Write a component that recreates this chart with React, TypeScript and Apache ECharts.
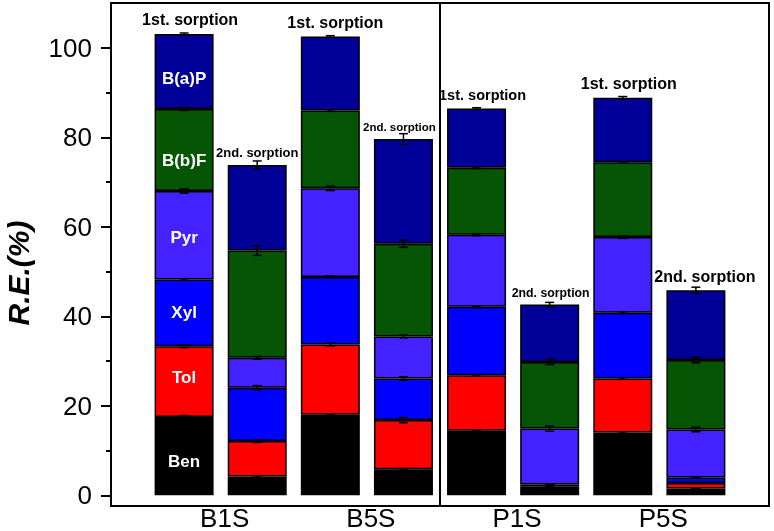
import React, { useEffect, useRef } from "react";
import * as echarts from "echarts";

// slots of the category axis (bars occupy slots 1..8)
const slots = ["0", "1", "2", "3", "4", "5", "6", "7", "8", "9"];
const barX = [1, 2, 3, 4, 5, 6, 7, 8];
const groupNames = ["B1S", "B5S", "P1S", "P5S"];
const groupPos = [1.5, 3.5, 5.5, 7.5];
const separatorX = 4.5;
const topLabels = [
  "1st. sorption", "2nd. sorption", "1st. sorption", "2nd. sorption",
  "1st. sorption", "2nd. sorption", "1st. sorption", "2nd. sorption",
];
const compounds = ["Ben", "Tol", "Xyl", "Pyr", "B(b)F", "B(a)P"];

const ben = [17.5, 4.2, 18.0, 5.8, 14.4, 1.4, 14.0, 1.5];
const tol = [15.8, 7.9, 15.7, 11.0, 12.4, 0.5, 12.1, 1.25];
const xyl = [14.9, 11.9, 15.1, 9.3, 15.3, 0.5, 14.7, 1.2];
const pyr = [19.8, 6.7, 19.8, 9.4, 16.1, 12.5, 16.9, 10.75];
const bbf = [18.3, 24.0, 17.4, 20.7, 15.0, 14.9, 16.7, 15.5];
const bap = [16.8, 19.1, 16.5, 23.4, 13.2, 12.8, 14.4, 15.6];

const benErr = [0.3, 0.2, 0.2, 0.2, 0.2, 0.1, 0.2, 0.1];
const tolErr = [0.3, 0.3, 0.3, 0.6, 0.2, 0.1, 0.2, 0.1];
const xylErr = [0.2, 0.5, 0.2, 0.4, 0.2, 0.1, 0.2, 0.1];
const pyrErr = [0.5, 0.3, 0.5, 0.3, 0.2, 0.6, 0.3, 0.5];
const bbfErr = [0.3, 1.1, 0.2, 0.8, 0.2, 0.6, 0.2, 0.6];
const bapErr = [0.2, 0.9, 0.2, 1.2, 0.2, 0.5, 0.3, 0.7];

const yMin = -2.4;
const yMax = 110;
const yMajorTicks = [0, 20, 40, 60, 80, 100];
const yMinorTicks = [10, 30, 50, 70, 90];

// styles
const colors = ["#000000", "#ff0000", "#0000ff", "#4422ff", "#055505", "#000099"];
const innerLabelDy = [5, -4, 0, 2, 10, 7];
const topLabelFont = [16, 13, 16, 11.5, 14.5, 12.3, 16, 16];
const topLabelDx = [6, 0, 5, -4, 6, 1, 6, 9];
const FONT = "Arial, 'Liberation Sans', sans-serif";

export default function App() {
  const ref = useRef<HTMLDivElement>(null);
  useEffect(() => {
    if (!ref.current) return;
    const chart = echarts.init(ref.current, undefined, { renderer: "svg" });
    const values = [ben, tol, xyl, pyr, bbf, bap];
    const errs = [benErr, tolErr, xylErr, pyrErr, bbfErr, bapErr];

    const barSeries = values.map((arr, si) => ({
      type: "bar",
      name: compounds[si],
      stack: "total",
      barWidth: 59,
      xAxisIndex: 0,
      yAxisIndex: 0,
      z: 2,
      itemStyle: { color: colors[si], borderColor: "#000", borderWidth: 1.5 },
      data: arr.map((v, i) => ({
        value: [barX[i], v],
        label: i === 0
          ? {
              show: true,
              position: "inside",
              offset: [0, innerLabelDy[si]],
              formatter: compounds[si],
              color: "#fff",
              fontSize: 17,
              fontWeight: "bold",
              fontFamily: FONT,
            }
          : { show: false },
      })),
    }));

    const errData: number[][] = [];
    const totals: number[] = barX.map(() => 0);
    values.forEach((arr, si) => {
      arr.forEach((v, i) => {
        totals[i] += v;
        errData.push([barX[i], totals[i], errs[si][i]]);
      });
    });

    const errorSeries = {
      type: "custom",
      xAxisIndex: 1,
      yAxisIndex: 0,
      z: 5,
      encode: { x: 0, y: 1 },
      data: errData,
      renderItem: (params: any, api: any) => {
        const x = api.value(0);
        const top = api.value(1);
        const e = api.value(2);
        const p1 = api.coord([x, top + e]);
        const p2 = api.coord([x, top - e]);
        const hw = 4.5;
        const st = { stroke: "#000", lineWidth: 1.5 };
        return {
          type: "group",
          children: [
            { type: "line", shape: { x1: p1[0], y1: p1[1], x2: p2[0], y2: p2[1] }, style: st },
            { type: "line", shape: { x1: p1[0] - hw, y1: p1[1], x2: p1[0] + hw, y2: p1[1] }, style: st },
            { type: "line", shape: { x1: p2[0] - hw, y1: p2[1], x2: p2[0] + hw, y2: p2[1] }, style: st },
          ],
        };
      },
    };

    const labelSeries = {
      type: "custom",
      xAxisIndex: 1,
      yAxisIndex: 0,
      z: 6,
      encode: { x: 0, y: 1 },
      data: barX.map((x, i) => [x, totals[i]]),
      renderItem: (params: any, api: any) => {
        const i = params.dataIndex;
        const p = api.coord([api.value(0), api.value(1)]);
        return {
          type: "text",
          x: p[0] + topLabelDx[i],
          y: p[1] - 6,
          style: {
            text: topLabels[i],
            fill: "#000",
            fontSize: topLabelFont[i],
            fontWeight: "bold",
            fontFamily: FONT,
            align: "center",
            verticalAlign: "bottom",
          },
        };
      },
    };

    const separatorSeries = {
      type: "line",
      xAxisIndex: 1,
      yAxisIndex: 0,
      z: 4,
      symbol: "none",
      silent: true,
      lineStyle: { color: "#000", width: 2 },
      data: [
        [separatorX, yMin],
        [separatorX, yMax],
      ],
    };

    chart.setOption({
      animation: false,
      grid: {
        left: 111,
        right: 5,
        top: 3,
        bottom: 25,
        outerBoundsMode: "none",
        containLabel: false,
        show: true,
        borderColor: "#000",
        borderWidth: 2,
        backgroundColor: "transparent",
      },
      xAxis: [
        {
          type: "category",
          data: slots,
          boundaryGap: false,
          position: "bottom",
          splitLine: { show: false },
          axisLine: { show: true, onZero: false, lineStyle: { color: "#000", width: 2 } },
          axisTick: { show: false },
          axisLabel: { show: false },
        },
        {
          type: "value",
          min: 0,
          max: 9,
          position: "bottom",
          splitLine: { show: false },
          axisLine: { show: false, onZero: false },
          axisTick: { show: false },
          axisLabel: {
            customValues: groupPos,
            formatter: (v: number) => groupNames[Math.round((v - 1.5) / 2)] ?? "",
            color: "#000",
            fontSize: 26,
            lineHeight: 20,
            fontFamily: FONT,
            margin: 2,
            padding: [0, 0, 0, 8],
          },
        },
      ],
      yAxis: [
        {
          type: "value",
          min: yMin,
          max: yMax,
          position: "left",
          splitLine: { show: false },
          axisLine: { show: true, onZero: false, lineStyle: { color: "#000", width: 2 } },
          axisTick: {
            show: true,
            customValues: yMajorTicks,
            length: 10,
            lineStyle: { color: "#000", width: 2 },
          },
          axisLabel: {
            customValues: yMajorTicks,
            color: "#000",
            fontSize: 26,
            fontFamily: FONT,
            margin: 19,
          },
          name: "R.E.(%)",
          nameLocation: "middle",
          nameRotate: 90,
          nameGap: 78,
          nameTextStyle: {
            color: "#000",
            fontSize: 30,
            fontWeight: "bold",
            fontStyle: "italic",
            fontFamily: FONT,
            padding: [0, 37, 0, 0],
          },
        },
        {
          type: "value",
          min: yMin,
          max: yMax,
          position: "left",
          splitLine: { show: false },
          axisLine: { show: false, onZero: false },
          axisTick: {
            show: true,
            customValues: yMinorTicks,
            length: 5,
            lineStyle: { color: "#000", width: 2 },
          },
          axisLabel: { show: true, customValues: yMinorTicks, formatter: () => "" },
        },
      ],
      series: [...barSeries, errorSeries, labelSeries, separatorSeries],
    });
    return () => chart.dispose();
  }, []);
  return (
    <div
      ref={ref}
      style={{ position: "fixed", left: 0, top: 0, width: 774, height: 531 }}
    />
  );
}
